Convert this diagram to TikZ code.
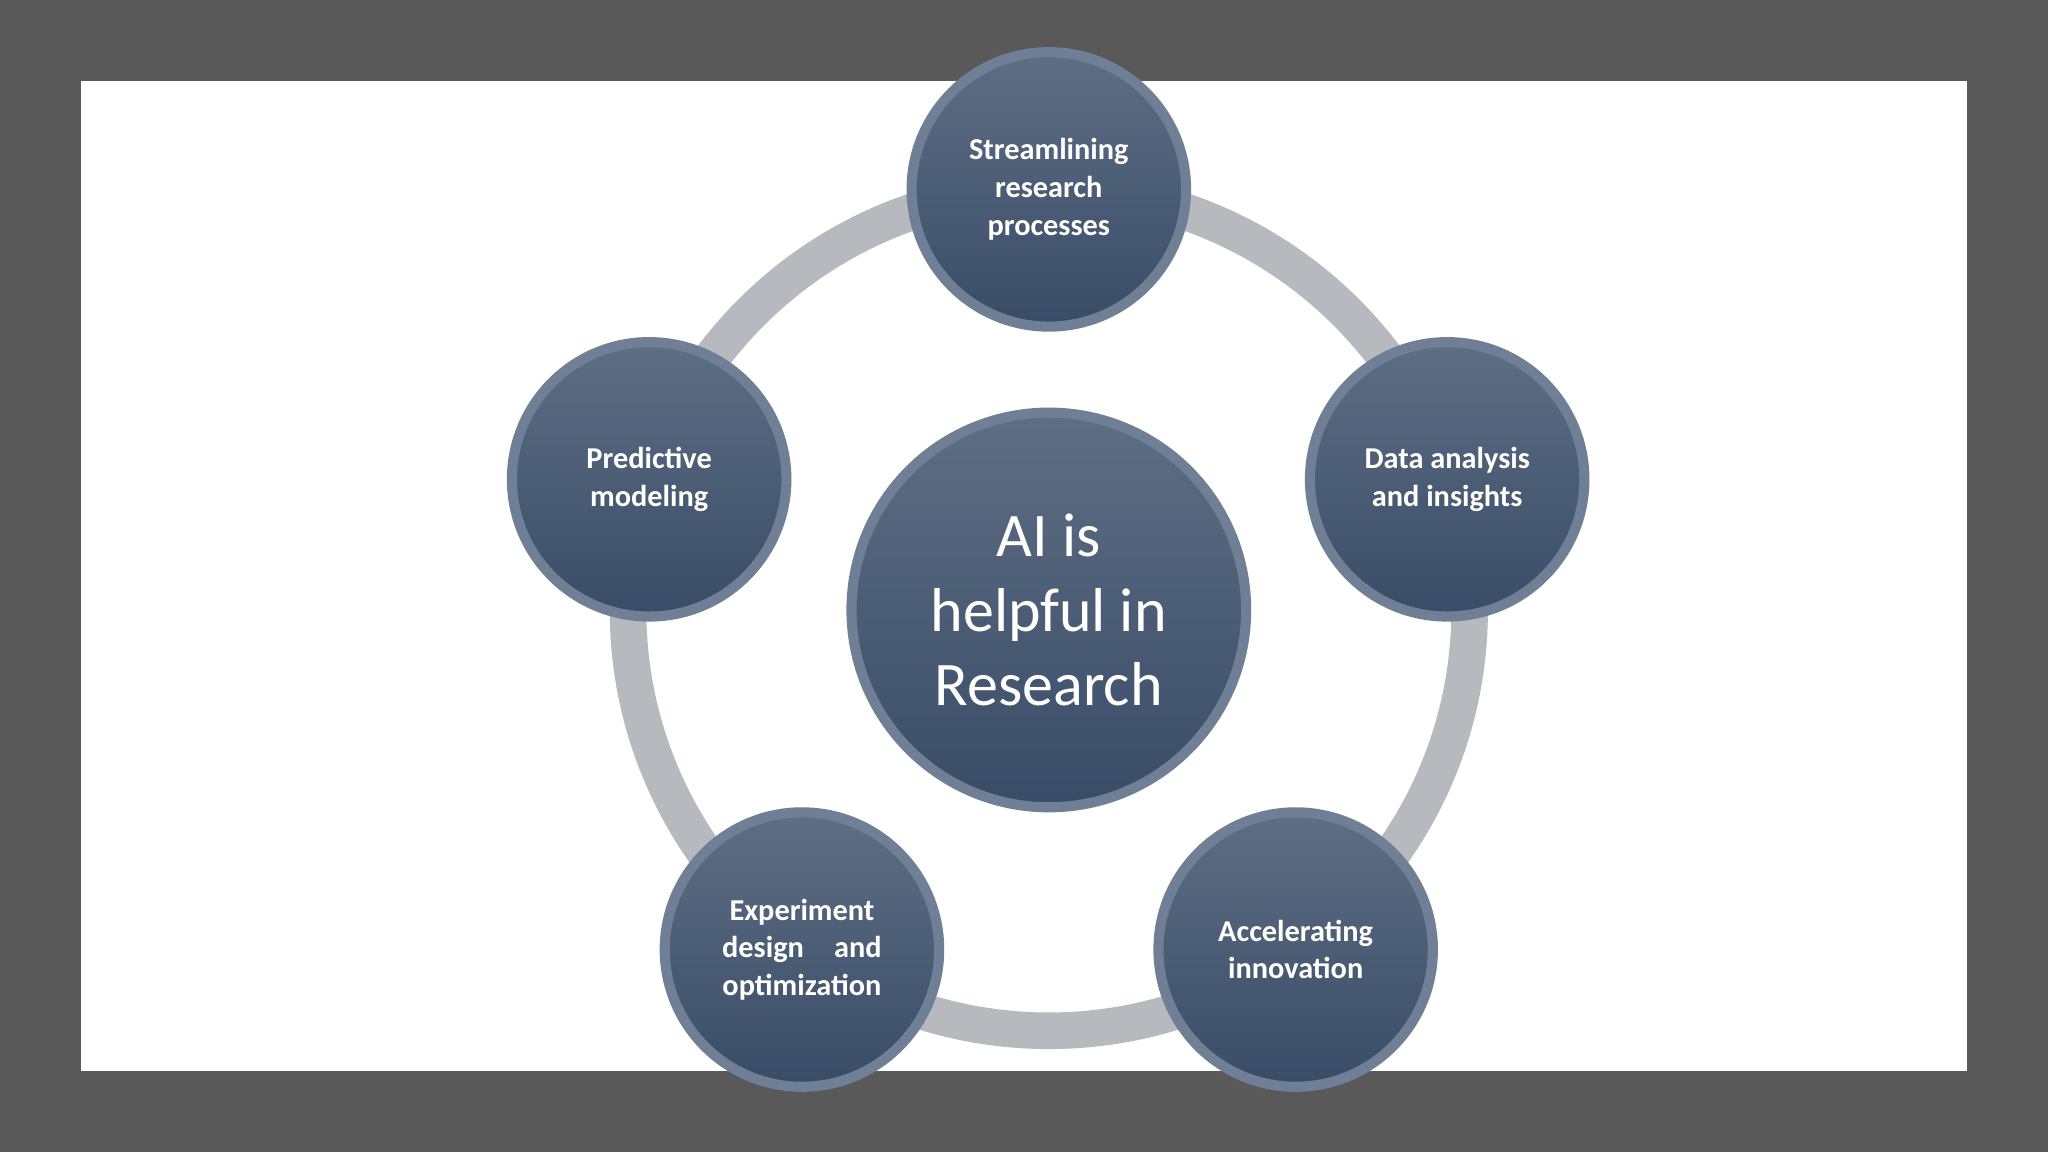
\documentclass[tikz,border=0pt]{standalone}
\usepackage{fontspec}
\setmainfont{Carlito}
\begin{document}
\begin{tikzpicture}[x=0.01cm,y=-0.01cm,
  ball/.style={circle,draw=ring2,line width=2.2pt,top color=top1,bottom color=bot1,
    minimum size=2.1cm,inner sep=0pt,text=white,align=center,font=\bfseries\fontsize{6.6pt}{8.2pt}\selectfont},
  bigball/.style={ball,minimum size=3.02cm,font=\fontsize{13.5pt}{16.2pt}\selectfont}]
\definecolor{bg}{HTML}{595959}
\definecolor{ringc}{HTML}{B6B9BE}
\definecolor{ring2}{HTML}{6F7F95}
\definecolor{top1}{HTML}{5E6E84}
\definecolor{bot1}{HTML}{394C67}
\useasboundingbox (0,0) rectangle (1568,882);
\fill[bg] (0,0) rectangle (1568,882);
\fill[white] (62,62) rectangle (1506,820);
\coordinate (c) at (803,467);
\draw[ringc,line width=0.28cm] (c) circle[radius=3.22cm];
\node[bigball] (m) at (c) {AI is\\helpful in\\Research};
\node[ball] (t) at (803,145) {Streamlining\\research\\processes};
\node[ball] (r) at (1108,367) {Data analysis\\and insights};
\node[ball] (br) at (992,727) {Accelerating\\innovation};
\node[ball] (bl) at (614,727) {Experiment\\design\quad and\\optimization};
\node[ball] (l) at (497,367) {Predictive\\modeling};
\end{tikzpicture}
\end{document}
